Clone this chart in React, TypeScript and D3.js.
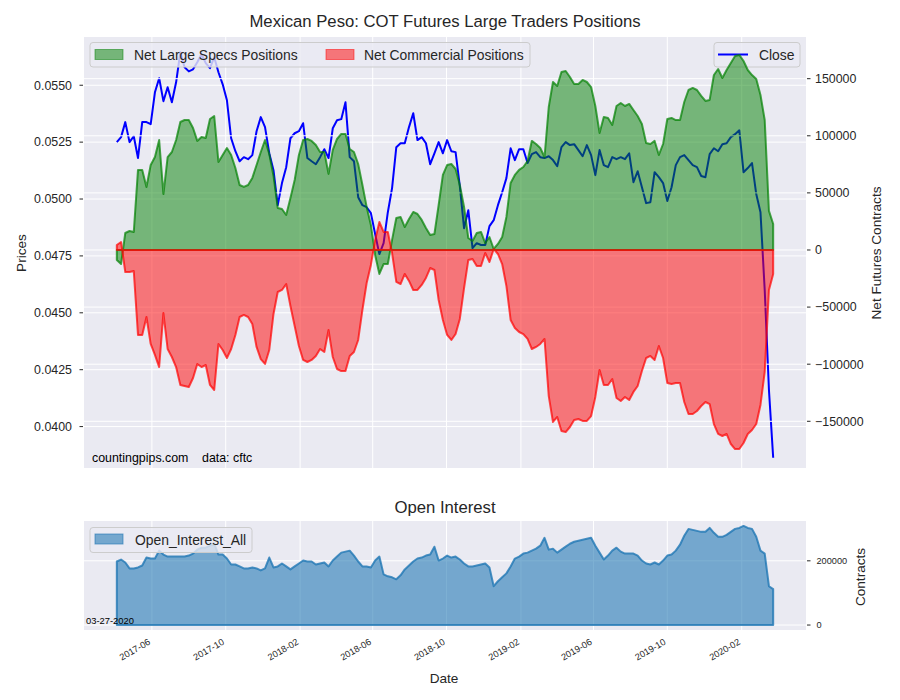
import React from 'react';
import * as d3 from 'd3';

const START_DATE = '2017-04-04';

const specs = [
  -8800,-12300,14900,16600,15800,70100,70100,55200,74400,81400,
  96300,49000,81400,85800,96300,112100,113800,113800,106800,95500,
  99000,98100,114700,117300,77100,83200,89300,83200,71800,56900,
  55200,56900,63100,74400,85800,96300,84100,64800,36800,35900,
  30600,45500,61300,83200,96300,97200,95500,91900,85800,85800,
  66600,87600,97200,101600,101600,88400,85800,75300,56900,37700,
  21900,-4400,-21000,-12300,-12300,8800,28000,28900,20100,27100,
  33300,31500,26300,19300,13100,14000,39400,65700,74400,75300,
  70900,56900,37700,10500,7900,14900,15800,6100,11400,900,
  5300,11400,28900,58700,65700,70100,72700,77900,95500,92800,
  89300,81400,125200,147100,143600,155900,156700,151500,145400,145400,
  148900,147100,142700,126100,102500,116500,115600,109500,126100,128700,
  126100,127900,122600,117300,110300,93700,92800,95500,83200,92800,
  114700,115600,113800,113800,129600,140100,141900,140100,134900,130500,
  131400,153200,158500,150600,157600,163800,169900,170800,165500,157600,
  153200,149700,135700,113800,34200,22800,
];

const commercials = [
  4400,7000,-19300,-19300,-18400,-74400,-74400,-58700,-82300,-91900,
  -102500,-55200,-86700,-93700,-102500,-118200,-119100,-120000,-112100,-99800,
  -102500,-100700,-118200,-122600,-82300,-87600,-94600,-86700,-74400,-58700,
  -56900,-58700,-64800,-84900,-95500,-99800,-87600,-56000,-36800,-35000,
  -29800,-49000,-66600,-84100,-96300,-98100,-96300,-92800,-86700,-89300,
  -70100,-93700,-104200,-106000,-106000,-92800,-89300,-78800,-52500,-28900,
  -13100,8800,24500,15800,15800,-2600,-28000,-29800,-21000,-27100,
  -35000,-35000,-30600,-24500,-15800,-17500,-43800,-61300,-74400,-78800,
  -73600,-60400,-33300,-8800,-7900,-14000,-14000,-2600,-10500,900,
  -3500,-12300,-31500,-61300,-68300,-71800,-73600,-77900,-86700,-84900,
  -82300,-77900,-127900,-150600,-146200,-158500,-159400,-155000,-148900,-148000,
  -149700,-149700,-145400,-128700,-105100,-118200,-118200,-113000,-129600,-132200,
  -128700,-131400,-124300,-119100,-106000,-94600,-92800,-96300,-84100,-94600,
  -116500,-117300,-116500,-116500,-133100,-143600,-143600,-141000,-136600,-133100,
  -134900,-152400,-161100,-162900,-161100,-169900,-174300,-174300,-169000,-161100,
  -157600,-152400,-135700,-106800,-35000,-21000,
];

const closePrice = [
  0.05250,0.05272,0.05338,0.05250,0.05276,0.05180,0.05338,0.05338,0.05329,0.05469,
  0.05531,0.05430,0.05491,0.05425,0.05513,0.05645,0.05579,0.05561,0.05570,0.05601,
  0.05636,0.05597,0.05575,0.05623,0.05557,0.05504,0.05434,0.05267,0.05210,0.05166,
  0.05184,0.05175,0.05193,0.05298,0.05360,0.05316,0.05201,0.05127,0.04973,0.05070,
  0.05140,0.05267,0.05289,0.05298,0.05333,0.05180,0.05166,0.05153,0.05184,0.05219,
  0.05180,0.05311,0.05346,0.05351,0.05425,0.05184,0.05166,0.05008,0.04973,0.04964,
  0.04938,0.04846,0.04758,0.04806,0.04942,0.05048,0.05228,0.05245,0.05245,0.05316,
  0.05377,0.05259,0.05272,0.05245,0.05153,0.05201,0.05250,0.05201,0.05259,0.05210,
  0.05206,0.05057,0.04872,0.04951,0.04784,0.04806,0.04798,0.04798,0.04881,0.04907,
  0.04973,0.05030,0.05092,0.05223,0.05171,0.05219,0.05219,0.05158,0.05197,0.05206,
  0.05184,0.05180,0.05188,0.05171,0.05144,0.05228,0.05250,0.05237,0.05241,0.05215,
  0.05188,0.05237,0.05193,0.05105,0.05215,0.05149,0.05140,0.05184,0.05175,0.05184,
  0.05175,0.05201,0.05074,0.05122,0.05052,0.04982,0.04986,0.05118,0.05096,0.05070,
  0.04991,0.05052,0.05149,0.05184,0.05193,0.05171,0.05149,0.05140,0.05101,0.05096,
  0.05197,0.05223,0.05210,0.05241,0.05245,0.05272,0.05285,0.05302,0.05118,0.05136,
  0.05158,0.05022,0.04942,0.04600,0.04161,0.03863,
];

const openInterest = [
  197800,204000,194800,176300,176300,179400,185500,210200,207100,207100,
  231700,219400,213200,213200,213200,213200,213200,216300,222500,234800,
  240900,240900,247100,253200,219400,219400,207100,188600,188600,182500,
  176300,176300,179400,176300,170200,176300,210200,179400,182500,191700,
  182500,173200,182500,191700,200900,197800,197800,188600,191700,194800,
  182500,200900,213200,225500,228600,231700,216300,197800,182500,182500,
  179400,200900,213200,157800,151700,148600,142500,154800,173200,185500,
  197800,207100,210200,216300,219400,244000,200900,207100,216300,210200,
  213200,204000,191700,182500,182500,185500,188600,191700,179400,120900,
  136300,148600,160900,182500,207100,213200,222500,225500,231700,237900,
  247100,271700,234800,237900,225500,234800,244000,253200,259400,262500,
  265500,268600,271700,247100,225500,204000,216300,231700,240900,228600,
  222500,222500,222500,216300,200900,191700,188600,194800,188600,200900,
  216300,219400,231700,250200,277900,299400,296300,293200,290200,290200,
  302500,287100,274800,274800,280900,290200,299400,302500,308600,302500,
  299400,274800,231700,222500,120900,111700,
];

const monthTicks = ['2017-06','2017-10','2018-02','2018-06','2018-10','2019-02','2019-06','2019-10','2020-02'];
const priceTicks = [0.04, 0.0425, 0.045, 0.0475, 0.05, 0.0525, 0.055];
const netTicks = [-150000, -100000, -50000, 0, 50000, 100000, 150000];
const oiTicks = [0, 200000];

const FONT = '"Liberation Sans", Arial, "DejaVu Sans", sans-serif';
const TXT = '#262626';
const BG = '#EAEAF2';

const L = 84, R = 806;
const MT = 37, MB = 468;
const BT = 521, BB = 630;

export default function App() {
  const start = d3.utcParse('%Y-%m-%d')(START_DATE) as Date;
  const dates = specs.map((_, i) => d3.utcDay.offset(start, 7 * i));
  const t0 = dates[0].getTime();
  const t1 = dates[dates.length - 1].getTime();
  const pad = (t1 - t0) * 0.05;
  const x = d3.scaleUtc().domain([new Date(t0 - pad), new Date(t1 + pad)]).range([L, R]);

  const yPrice = d3.scaleLinear().domain([0.03818, 0.05712]).range([MB, MT]);
  const yNet = d3.scaleLinear().domain([-190900, 186500]).range([MB, MT]);
  const yOI = d3.scaleLinear().domain([-15430, 324000]).range([BB, BT]);

  const monthDates = monthTicks.map((m) => d3.utcParse('%Y-%m')(m) as Date);

  const closeLine = d3.line<number>().x((_, i) => x(dates[i])).y((d) => yPrice(d))(closePrice) || '';
  const netArea = (vals: number[]) =>
    d3.area<number>().x((_, i) => x(dates[i])).y0(yNet(0)).y1((d) => yNet(d))(vals) || '';
  const oiArea = d3.area<number>().x((_, i) => x(dates[i])).y0(yOI(0)).y1((d) => yOI(d))(openInterest) || '';

  const fmtNet = (v: number) => (v < 0 ? '\u2212' + Math.abs(v) : String(v));

  return (
    <svg width={900} height={700} style={{ position: 'absolute', left: 0, top: 0 }} fontFamily={FONT}>
      <rect x={0} y={0} width={900} height={700} fill="#ffffff" />
      {/* title */}
      <text x={445} y={27} textAnchor="middle" fontSize={16.7} fill={TXT}>
        Mexican Peso: COT Futures Large Traders Positions
      </text>

      {/* main panel background */}
      <rect x={L} y={MT} width={R - L} height={MB - MT} fill={BG} />
      {monthDates.map((d, i) => (
        <line key={'vg' + i} x1={x(d)} x2={x(d)} y1={MT} y2={MB} stroke="#fff" strokeWidth={1} />
      ))}
      {priceTicks.map((t, i) => (
        <line key={'pg' + i} x1={L} x2={R} y1={yPrice(t)} y2={yPrice(t)} stroke="#fff" strokeWidth={1} />
      ))}
      {/* close line */}
      <path d={closeLine} fill="none" stroke="blue" strokeWidth={2} strokeLinejoin="round" />
      {/* Close legend */}
      <rect x={714} y={42.5} width={86} height={24.5} rx={3} fill={BG} fillOpacity={0.8} stroke="#cccccc" />
      <line x1={718} x2={748} y1={54.5} y2={54.5} stroke="blue" strokeWidth={2} />
      <text x={759} y={59.5} fontSize={13.9} fill={TXT}>Close</text>

      {/* right axis grid */}
      {netTicks.map((t, i) => (
        <line key={'ng' + i} x1={L} x2={R} y1={yNet(t)} y2={yNet(t)} stroke="#fff" strokeWidth={1} />
      ))}
      {/* fills */}
      <path d={netArea(specs)} fill="green" fillOpacity={0.5} stroke="green" strokeOpacity={0.7} strokeWidth={2} strokeLinejoin="round" />
      <path d={netArea(commercials)} fill="red" fillOpacity={0.5} stroke="red" strokeOpacity={0.7} strokeWidth={2} strokeLinejoin="round" />

      {/* left legend */}
      <rect x={90} y={42.5} width={440} height={24.5} rx={3} fill={BG} fillOpacity={0.8} stroke="#cccccc" />
      <rect x={95} y={49.5} width={28} height={10} fill="green" fillOpacity={0.5} stroke="green" strokeOpacity={0.5} />
      <text x={134} y={59.5} fontSize={13.9} fill={TXT}>Net Large Specs Positions</text>
      <rect x={326} y={49.5} width={28} height={10} fill="red" fillOpacity={0.5} stroke="red" strokeOpacity={0.5} />
      <text x={364} y={59.5} fontSize={13.9} fill={TXT}>Net Commercial Positions</text>

      {/* watermark */}
      <text x={92} y={462} fontSize={12.4} fill="#000">countingpips.com</text>
      <text x={202} y={462} fontSize={12.4} fill="#000">data: cftc</text>

      {/* left axis */}
      {priceTicks.map((t, i) => (
        <g key={'pt' + i}>
          <line x1={79.5} x2={83} y1={yPrice(t)} y2={yPrice(t)} stroke={TXT} strokeWidth={1} />
          <text x={72} y={yPrice(t)} dy="0.35em" textAnchor="end" fontSize={12.4} fill={TXT}>
            {t.toFixed(4)}
          </text>
        </g>
      ))}
      <text transform={`translate(21,253) rotate(-90)`} textAnchor="middle" dy="0.35em" fontSize={13.6} fill={TXT}>
        Prices
      </text>

      {/* right axis */}
      {netTicks.map((t, i) => (
        <g key={'nt' + i}>
          <line x1={807} x2={810.5} y1={yNet(t)} y2={yNet(t)} stroke={TXT} strokeWidth={1} />
          <text x={815} y={yNet(t)} dy="0.35em" fontSize={12.4} fill={TXT}>
            {fmtNet(t)}
          </text>
        </g>
      ))}
      <text transform={`translate(876.5,253) rotate(-90)`} textAnchor="middle" dy="0.35em" fontSize={13.6} fill={TXT}>
        Net Futures Contracts
      </text>

      {/* bottom panel */}
      <text x={445} y={512.5} textAnchor="middle" fontSize={16.7} fill={TXT}>Open Interest</text>
      <rect x={L} y={BT} width={R - L} height={BB - BT} fill={BG} />
      {monthDates.map((d, i) => (
        <line key={'bvg' + i} x1={x(d)} x2={x(d)} y1={BT} y2={BB} stroke="#fff" strokeWidth={1} />
      ))}
      {oiTicks.map((t, i) => (
        <line key={'og' + i} x1={L} x2={R} y1={yOI(t)} y2={yOI(t)} stroke="#fff" strokeWidth={1} />
      ))}
      <path d={oiArea} fill="#1f77b4" fillOpacity={0.58} stroke="#1f77b4" strokeOpacity={0.8} strokeWidth={2} strokeLinejoin="round" />
      <rect x={90} y={527.5} width={162} height={25} rx={3} fill={BG} fillOpacity={0.8} stroke="#cccccc" />
      <rect x={95} y={534} width={28} height={10} fill="#1f77b4" fillOpacity={0.58} stroke="#1f77b4" strokeOpacity={0.6} />
      <text x={135} y={544.5} fontSize={13.9} fill={TXT}>Open_Interest_All</text>
      <text x={86} y={624.3} fontSize={9.4} fill="#000">03-27-2020</text>
      {oiTicks.map((t, i) => (
        <g key={'ot' + i}>
          <line x1={807} x2={810.5} y1={yOI(t)} y2={yOI(t)} stroke={TXT} strokeWidth={1} />
          <text x={816.5} y={yOI(t)} dy="0.35em" fontSize={9.2} fill={TXT}>
            {String(t)}
          </text>
        </g>
      ))}
      <text transform={`translate(860,577) rotate(-90)`} textAnchor="middle" dy="0.35em" fontSize={13.6} fill={TXT}>
        Contracts
      </text>
      {monthDates.map((d, i) => (
        <text
          key={'xl' + i}
          transform={`translate(${x(d) - 2.5},${641}) rotate(-30)`}
          textAnchor="end"
          dy="0.35em"
          fontSize={9.2}
          fill={TXT}
        >
          {monthTicks[i]}
        </text>
      ))}
      <text x={444} y={682.5} textAnchor="middle" fontSize={13.6} fill={TXT}>Date</text>
    </svg>
  );
}
